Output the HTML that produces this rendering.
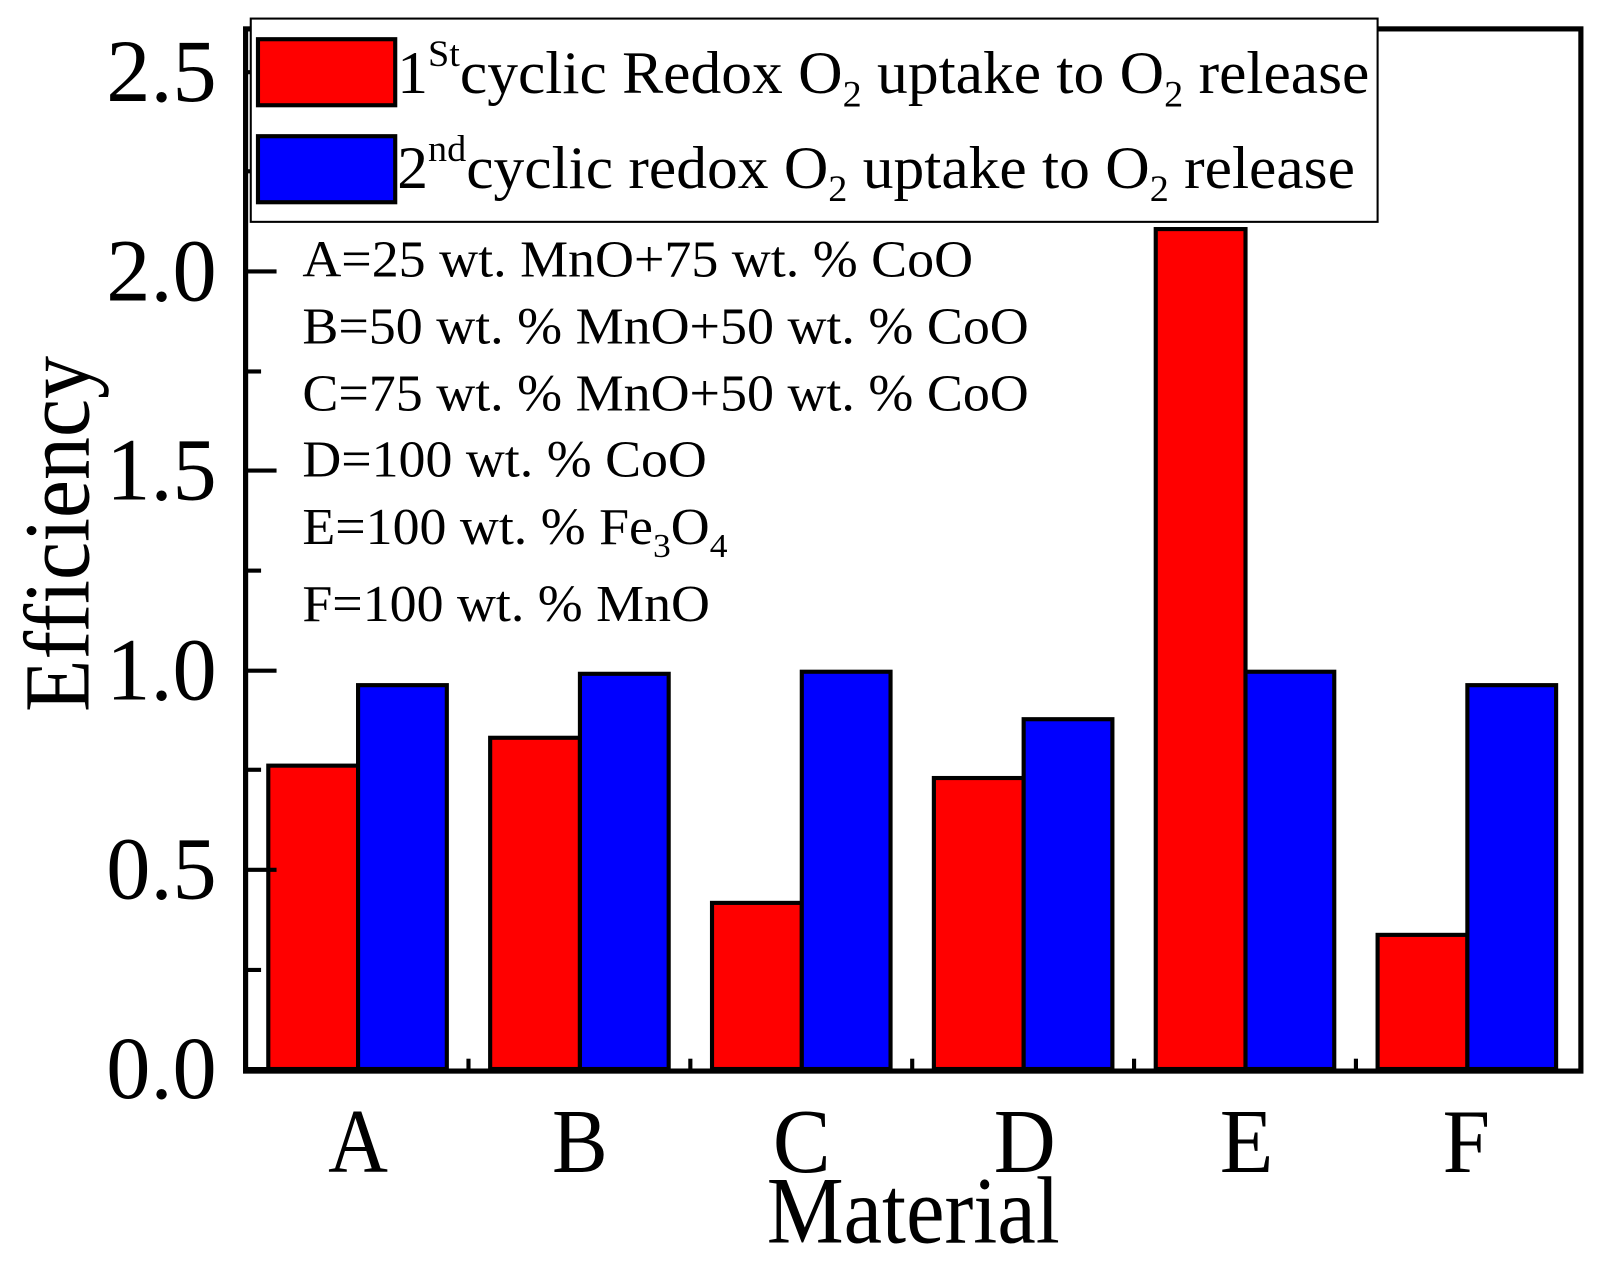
<!DOCTYPE html>
<html><head><style>html,body{margin:0;padding:0;background:#fff}svg{display:block}</style></head>
<body>
<svg width="1617" height="1263" viewBox="0 0 1567 1224" preserveAspectRatio="none" xmlns="http://www.w3.org/2000/svg" font-family="Liberation Serif, serif">
<rect width="1567" height="1224" fill="#fff"/>
<g stroke="#000" stroke-width="4">
<rect x="260" y="742" width="87" height="294" fill="#f00"/>
<rect x="347" y="664" width="86" height="372" fill="#00f"/>
<rect x="475" y="715" width="87" height="321" fill="#f00"/>
<rect x="562" y="653" width="86" height="383" fill="#00f"/>
<rect x="690" y="875" width="87" height="161" fill="#f00"/>
<rect x="777" y="651" width="86" height="385" fill="#00f"/>
<rect x="905" y="754" width="87" height="282" fill="#f00"/>
<rect x="992" y="697" width="86" height="339" fill="#00f"/>
<rect x="1120" y="222" width="87" height="814" fill="#f00"/>
<rect x="1207" y="651" width="86" height="385" fill="#00f"/>
<rect x="1335" y="906" width="87" height="130" fill="#f00"/>
<rect x="1422" y="664" width="86" height="372" fill="#00f"/>
</g>
<g stroke="#000" stroke-width="4">
<line x1="238" y1="1036" x2="268" y2="1036"/>
<line x1="238" y1="843" x2="268" y2="843"/>
<line x1="238" y1="650" x2="268" y2="650"/>
<line x1="238" y1="456" x2="268" y2="456"/>
<line x1="238" y1="263" x2="268" y2="263"/>
<line x1="238" y1="70" x2="268" y2="70"/>
<line x1="238" y1="940" x2="253" y2="940"/>
<line x1="238" y1="746" x2="253" y2="746"/>
<line x1="238" y1="553" x2="253" y2="553"/>
<line x1="238" y1="360" x2="253" y2="360"/>
<line x1="238" y1="166" x2="253" y2="166"/>
<line x1="454" y1="1038" x2="454" y2="1026"/>
<line x1="669" y1="1038" x2="669" y2="1026"/>
<line x1="884" y1="1038" x2="884" y2="1026"/>
<line x1="1099" y1="1038" x2="1099" y2="1026"/>
<line x1="1314" y1="1038" x2="1314" y2="1026"/>
</g>
<rect x="238" y="28" width="1294" height="1010" fill="none" stroke="#000" stroke-width="5"/>
<rect x="243" y="18" width="1092" height="197" fill="#fff" stroke="#000" stroke-width="2"/>
<rect x="250" y="38" width="133" height="64" fill="#f00" stroke="#000" stroke-width="4"/>
<rect x="250" y="132" width="133" height="64" fill="#00f" stroke="#000" stroke-width="4"/>
<g font-size="58" fill="#000">
<text x="385" y="90" textLength="942" lengthAdjust="spacingAndGlyphs">1<tspan font-size="36" dy="-26">St</tspan><tspan dy="26">cyclic Redox O</tspan><tspan font-size="36" dy="13">2</tspan><tspan dy="-13"> uptake to O</tspan><tspan font-size="36" dy="13">2</tspan><tspan dy="-13"> release</tspan></text>
<text x="385" y="182" textLength="928" lengthAdjust="spacingAndGlyphs">2<tspan font-size="36" dy="-26">nd</tspan><tspan dy="26">cyclic redox O</tspan><tspan font-size="36" dy="13">2</tspan><tspan dy="-13"> uptake to O</tspan><tspan font-size="36" dy="13">2</tspan><tspan dy="-13"> release</tspan></text>
</g>
<g font-size="50" fill="#000">
<text x="293" y="268" textLength="650" lengthAdjust="spacingAndGlyphs">A=25 wt. MnO+75 wt. % CoO</text>
<text x="293" y="333" textLength="704" lengthAdjust="spacingAndGlyphs">B=50 wt. % MnO+50 wt. % CoO</text>
<text x="293" y="398" textLength="704" lengthAdjust="spacingAndGlyphs">C=75 wt. % MnO+50 wt. % CoO</text>
<text x="293" y="462" textLength="392" lengthAdjust="spacingAndGlyphs">D=100 wt. % CoO</text>
<text x="293" y="527" textLength="412" lengthAdjust="spacingAndGlyphs">E=100 wt. % Fe<tspan font-size="33" dy="13">3</tspan><tspan dy="-13">O</tspan><tspan font-size="33" dy="13">4</tspan></text>
<text x="293" y="602" textLength="395" lengthAdjust="spacingAndGlyphs">F=100 wt. % MnO</text>
</g>
<g font-size="86" fill="#000">
<text x="103" y="1064" textLength="107" lengthAdjust="spacingAndGlyphs">0.0</text>
<text x="103" y="871" textLength="107" lengthAdjust="spacingAndGlyphs">0.5</text>
<text x="103" y="678" textLength="107" lengthAdjust="spacingAndGlyphs">1.0</text>
<text x="103" y="484" textLength="107" lengthAdjust="spacingAndGlyphs">1.5</text>
<text x="103" y="291" textLength="107" lengthAdjust="spacingAndGlyphs">2.0</text>
<text x="103" y="98" textLength="107" lengthAdjust="spacingAndGlyphs">2.5</text>
</g>
<g font-size="88" fill="#000">
<text x="318" y="1136" textLength="58" lengthAdjust="spacingAndGlyphs">A</text>
<text x="535" y="1136" textLength="54" lengthAdjust="spacingAndGlyphs">B</text>
<text x="749" y="1136" textLength="56" lengthAdjust="spacingAndGlyphs">C</text>
<text x="963" y="1136" textLength="60" lengthAdjust="spacingAndGlyphs">D</text>
<text x="1182" y="1136" textLength="52" lengthAdjust="spacingAndGlyphs">E</text>
<text x="1398" y="1136" textLength="46" lengthAdjust="spacingAndGlyphs">F</text>
<text x="743" y="1204" font-size="92" textLength="284" lengthAdjust="spacingAndGlyphs">Material</text>
<text transform="translate(86,690) rotate(-90)" font-size="90" textLength="345" lengthAdjust="spacingAndGlyphs">Efficiency</text>
</g>
</svg>
</body></html>
